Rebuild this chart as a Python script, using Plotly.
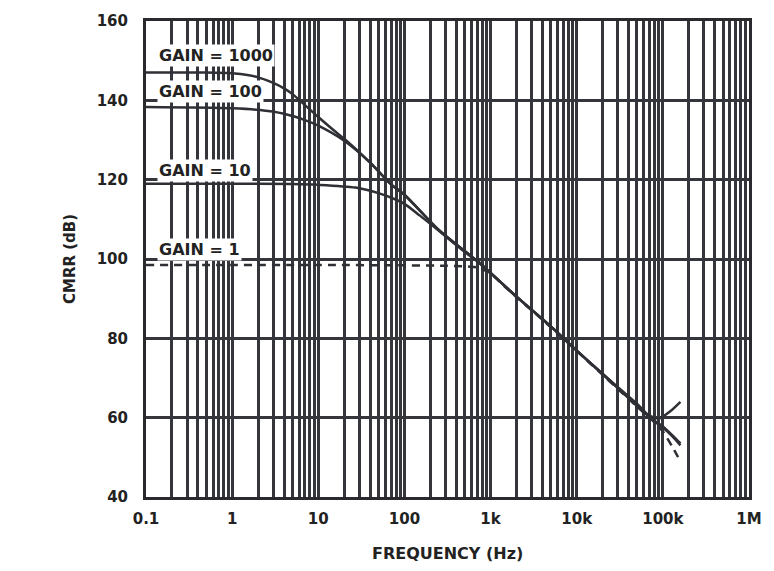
import plotly.graph_objects as go

# ---- data ----
freq_1000 = [0.1, 0.5, 1, 1.5, 2, 3, 4, 5, 7, 10, 16, 20, 40, 70, 100, 245, 500, 720, 1000, 2000, 5000,
             10000, 20000, 50000, 70000, 90000, 120000, 160000]
cmrr_1000 = [147.0, 147.0, 146.8, 146.4, 145.8, 144.4, 143.0, 141.6, 138.8, 135.8, 132.0, 130.3, 124.3,
             118.8, 116.2, 107.5, 102.0, 99.3, 96.5, 90.5, 83.0, 76.9, 71.0, 63.5, 60.5, 59.8, 61.5, 64.0]

freq_100 = [0.1, 1, 2, 4, 7, 10, 20, 40, 70, 100, 245, 500, 720, 1000, 2000, 5000,
            10000, 20000, 50000, 80000, 100000, 130000, 160000]
cmrr_100 = [138.3, 138.0, 137.6, 136.6, 135.0, 133.6, 129.8, 124.3, 118.8, 116.2, 107.5, 102.0, 99.3,
            96.5, 90.5, 83.0, 76.9, 71.0, 63.0, 59.2, 57.8, 55.5, 53.5]

freq_10 = [0.1, 1, 5, 10, 27, 50, 79, 100, 150, 245, 500, 720, 1000, 2000, 5000,
           10000, 20000, 50000, 80000, 100000, 130000, 160000]
cmrr_10 = [119.0, 119.0, 118.9, 118.7, 118.0, 116.6, 115.0, 113.9, 111.0, 107.3, 101.8, 99.2,
           96.5, 90.5, 83.0, 76.9, 71.0, 63.0, 59.0, 57.5, 55.2, 53.0]

freq_1 = [0.1, 1, 10, 100, 300, 550, 720, 1000, 1500, 2000, 5000, 10000, 20000, 50000,
          80000, 100000, 130000, 160000]
cmrr_1 = [98.5, 98.5, 98.5, 98.4, 98.3, 98.1, 97.8, 96.3, 92.8, 90.4, 82.8, 76.8, 70.8, 62.8,
          58.8, 56.5, 52.5, 49.0]

gain_labels = ["GAIN = 1000", "GAIN = 100", "GAIN = 10", "GAIN = 1"]
label_y = [151.3, 142.3, 122.3, 102.5]

x_tickvals = [0.1, 1, 10, 100, 1000, 10000, 100000, 1000000]
x_ticktext = ["0.1", "1", "10", "100", "1k", "10k", "100k", "1M"]
y_tickvals = [40, 60, 80, 100, 120, 140, 160]

# minor grid values (2..9 of each decade)
minor_vals = [m * d for d in [0.1, 1, 10, 100, 1000, 10000, 100000] for m in range(2, 10)]

LINE = "#2f3035"
GRID = "#34363c"
FONT = "DejaVu Sans"

fig = go.Figure()
for fx, fy, dash in [(freq_1000, cmrr_1000, "solid"), (freq_100, cmrr_100, "solid"),
                     (freq_10, cmrr_10, "solid"), (freq_1, cmrr_1, "8px,6px")]:
    fig.add_trace(go.Scatter(x=fx, y=fy, mode="lines", line=dict(color=LINE, width=2.5, dash=dash,
                                                                 shape="spline", smoothing=0.8),
                             showlegend=False, hoverinfo="skip"))

for txt, yv in zip(gain_labels, label_y):
    fig.add_annotation(x=-0.87, y=yv, xref="x", yref="y", text="<b>%s</b>" % txt, showarrow=False,
                       xanchor="left", yanchor="middle", bgcolor="white", borderpad=1,
                       font=dict(family=FONT, size=16, color="#222222"))

fig.add_annotation(x=0.5, y=-0.095, xref="paper", yref="paper", text="<b>FREQUENCY (Hz)</b>",
                   showarrow=False, xanchor="center", yanchor="top",
                   font=dict(family=FONT, size=16, color="#222222"))
fig.add_annotation(x=-0.126, y=0.5, xref="paper", yref="paper", text="<b>CMRR (dB)</b>",
                   showarrow=False, textangle=-90, xanchor="center", yanchor="middle",
                   font=dict(family=FONT, size=15, color="#222222"))

fig.update_xaxes(type="log", range=[-1, 6], tickvals=x_tickvals, ticktext=x_ticktext,
                 showgrid=True, gridcolor=GRID, gridwidth=3, zeroline=False,
                 minor=dict(tickvals=minor_vals, showgrid=True, gridcolor=GRID, gridwidth=3, ticks=""),
                 showline=True, mirror=True, linecolor="#2a2a2e", linewidth=3, ticks="",
                 tickfont=dict(family=FONT, size=15, color="#222222", weight="bold"),
                 ticklabelstandoff=6)
fig.update_yaxes(range=[40, 160], tickvals=y_tickvals, showgrid=True, gridcolor=GRID, gridwidth=3,
                 zeroline=False, showline=True, mirror=True, linecolor="#2a2a2e", linewidth=3, ticks="",
                 tickfont=dict(family=FONT, size=15, color="#222222", weight="bold"),
                 ticklabelstandoff=12)

fig.update_layout(width=774, height=571, margin=dict(l=146, r=22, t=18, b=74),
                  paper_bgcolor="white", plot_bgcolor="white")

fig.write_html("out.html")
